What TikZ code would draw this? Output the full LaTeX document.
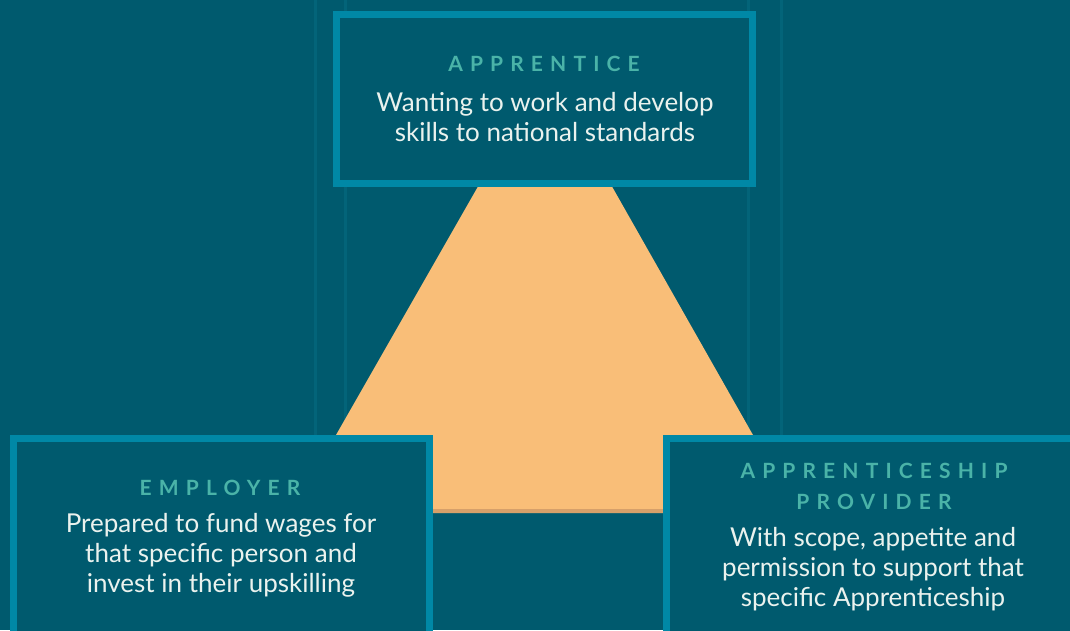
\documentclass[tikz,border=0pt]{standalone}
\usepackage{fontspec}
\setmainfont{Lato}
\definecolor{bgc}{RGB}{0,90,110}
\definecolor{linec}{RGB}{3,100,121}
\definecolor{borderc}{RGB}{0,136,166}
\definecolor{titlec}{RGB}{74,179,168}
\definecolor{bodyc}{RGB}{234,242,238}
\definecolor{orangec}{RGB}{249,190,120}
\definecolor{shadowc}{RGB}{214,160,106}
\tikzset{
  panel/.style={draw=borderc, line width=7pt, fill=bgc, inner sep=0pt},
  titletext/.style={text=titlec, font=\fontsize{21}{31}\selectfont\bfseries\addfontfeature{LetterSpace=34}, align=center, inner sep=0pt},
  bodytext/.style={text=bodyc, font=\fontsize{26}{30}\selectfont, align=center, inner sep=0pt},
  faint/.style={draw=linec, line width=3pt}
}
\begin{document}
\begin{tikzpicture}[x=1pt,y=-1pt]
\fill[bgc] (0,0) rectangle (1070,630);
\useasboundingbox (0,0) rectangle (1070,630);
% faint vertical lines
\coordinate (l1t) at (315,0); \coordinate (l1b) at (315,630);
\coordinate (l2t) at (345,0); \coordinate (l2b) at (345,630);
\coordinate (l3t) at (748,0); \coordinate (l3b) at (748,630);
\coordinate (l4t) at (781,0); \coordinate (l4b) at (781,630);
\draw[faint] (l1t) -- (l1b);
\draw[faint] (l2t) -- (l2b);
\draw[faint] (l3t) -- (l3b);
\draw[faint] (l4t) -- (l4b);
% orange trapezoid
\fill[orangec] (480,183) -- (610,183) -- (753,435) -- (753,513) -- (336,513) -- (336,435) -- cycle;
\fill[shadowc] (430,509) rectangle (666,513);
% panels
\node[panel, minimum width=416, minimum height=169] (apprentice) at (544.5,99) {};
\node[panel, minimum width=416, minimum height=220] (employer) at (221.5,548.5) {};
\node[panel, minimum width=420, minimum height=220] (provider) at (876.5,548.5) {};
% texts
\node[titletext] (apprenticeT) at (544,64) {APPRENTICE};
\node[bodytext] (apprenticeB) at (545,117) {Wanting to work and develop\\skills to national standards};
\node[titletext] (employerT) at (220,488) {EMPLOYER};
\node[bodytext] (employerB) at (221,555) {Prepared to fund wages for\\that specific person and\\invest in their upskilling};
\node[titletext] (providerT) at (874,486) {APPRENTICESHIP\\PROVIDER};
\node[bodytext] (providerB) at (873,569) {With scope, appetite and\\permission to support that\\specific Apprenticeship};
\end{tikzpicture}
\end{document}
